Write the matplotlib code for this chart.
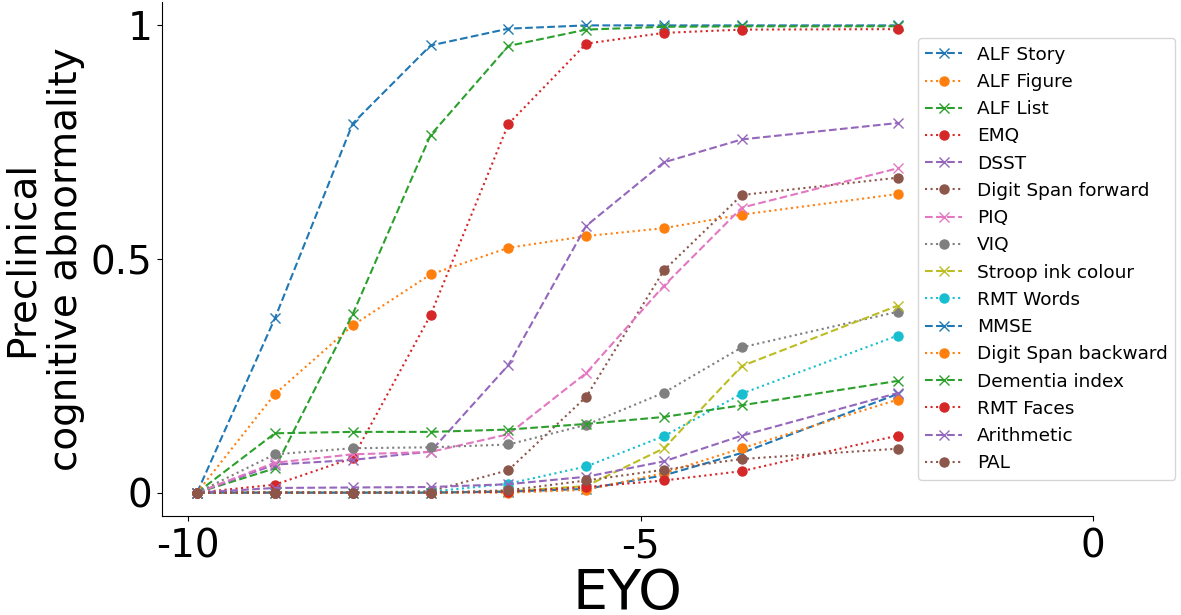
import numpy as np
import matplotlib
matplotlib.use("Agg")
from matplotlib import pyplot as plt

# EYO positions of the points
eyo = [-9.9, -9.04, -8.18, -7.32, -6.46, -5.6, -4.74, -3.88, -2.16]

names = ["ALF Story", "ALF Figure", "ALF List", "EMQ", "DSST",
         "Digit Span forward", "PIQ", "VIQ", "Stroop ink colour", "RMT Words",
         "MMSE", "Digit Span backward", "Dementia index", "RMT Faces",
         "Arithmetic", "PAL"]

alf_story = [0, 0.373, 0.790, 0.957, 0.993, 1.0, 1.0, 1.0, 1.0]
alf_figure = [0, 0.211, 0.358, 0.467, 0.524, 0.549, 0.566, 0.595, 0.639]
alf_list = [0, 0.052, 0.382, 0.765, 0.956, 0.991, 0.997, 0.998, 0.998]
emq = [0, 0.017, 0.074, 0.380, 0.789, 0.961, 0.984, 0.991, 0.992]
dsst = [0, 0.060, 0.070, 0.088, 0.273, 0.571, 0.707, 0.756, 0.791]
digit_fwd = [0, 0, 0, 0.003, 0.048, 0.205, 0.476, 0.637, 0.674]
piq = [0, 0.064, 0.082, 0.087, 0.125, 0.256, 0.443, 0.610, 0.694]
viq = [0, 0.082, 0.095, 0.097, 0.103, 0.145, 0.214, 0.311, 0.387]
stroop = [0, 0, 0, 0, 0.003, 0.014, 0.095, 0.271, 0.400]
rmt_words = [0, 0, 0, 0.002, 0.019, 0.056, 0.121, 0.212, 0.336]
mmse = [0, 0, 0, 0, 0.002, 0.008, 0.037, 0.085, 0.211]
digit_bwd = [0, 0, 0, 0, 0, 0.006, 0.042, 0.095, 0.199]
dementia = [0, 0.127, 0.130, 0.130, 0.135, 0.147, 0.162, 0.187, 0.239]
rmt_faces = [0, 0, 0, 0, 0.002, 0.012, 0.026, 0.046, 0.122]
arithmetic = [0, 0.010, 0.011, 0.012, 0.018, 0.034, 0.067, 0.122, 0.213]
pal = [0, 0, 0, 0, 0.005, 0.026, 0.049, 0.072, 0.094]

series = [alf_story, alf_figure, alf_list, emq, dsst, digit_fwd, piq, viq,
          stroop, rmt_words, mmse, digit_bwd, dementia, rmt_faces,
          arithmetic, pal]

colors = plt.rcParams['axes.prop_cycle'].by_key()['color']

fig = plt.figure(figsize=(11.81, 6.15), dpi=100)
ax = fig.add_axes([0.1372, 0.161, 0.7883, 0.8357])

for i, (name, vals) in enumerate(zip(names, series)):
    c = colors[i % 10]
    if i % 2 == 0:
        ax.plot(eyo, vals, '--', marker='x', color=c, label=name, markersize=6.5)
    else:
        ax.plot(eyo, vals, ':', marker='o', color=c, label=name, markersize=6.5)

ax.set_xlim(right=0)
ax.set_xticks([-10, -5, 0])
ax.set_xticklabels(['-10', '-5', '0'])
ax.set_yticks([0, 0.5, 1])
ax.set_yticklabels(['0', '0.5', '1'])
ax.tick_params(labelsize=28)
ax.tick_params(axis='x', pad=5)
ax.set_xlabel("EYO", fontsize=40, labelpad=1)
ax.set_ylabel("Preclinical\ncognitive abnormality", fontsize=28)
ax.spines['top'].set_visible(False)
ax.spines['right'].set_visible(False)

ax.legend(loc='center left', bbox_to_anchor=(0.812, 0.5), borderaxespad=0,
          fontsize=13.3)

fig.savefig("out.png", dpi=100)
